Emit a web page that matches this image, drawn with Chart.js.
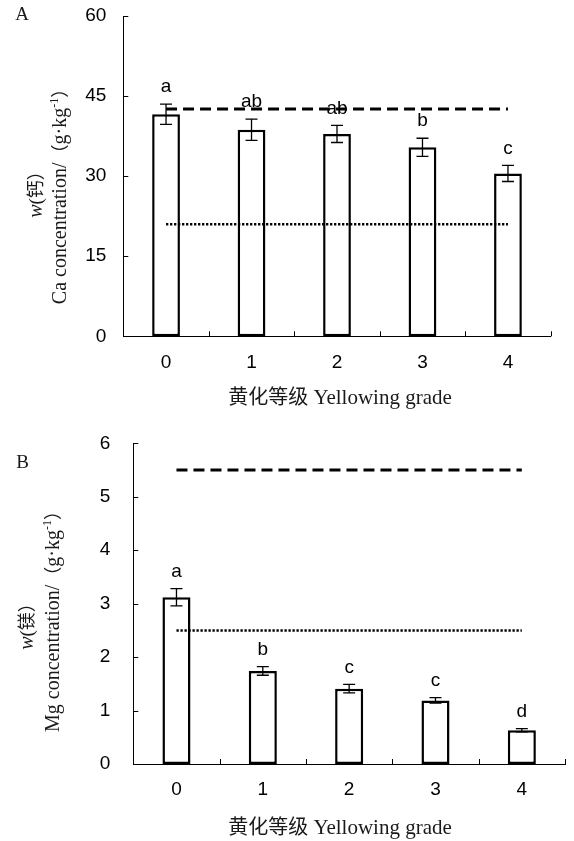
<!DOCTYPE html>
<html>
<head>
<meta charset="utf-8">
<script src="https://cdn.jsdelivr.net/npm/chart.js@4.4.1/dist/chart.umd.min.js"></script>
<style>
  html, body { margin: 0; padding: 0; background: #fff; }
  #page { position: relative; width: 574px; height: 841px; overflow: hidden; }
  canvas { position: absolute; left: 0; }
</style>
</head>
<body>
<div id="page">
  <canvas id="panelA" width="574" height="410" style="top:0"></canvas>
  <canvas id="panelB" width="574" height="431" style="top:410px"></canvas>
</div>
<script>
// Yellowing grades on the x axis
const grades = ['0', '1', '2', '3', '4'];

// Panel A: leaf calcium (g/kg)
const caMean = [41.6, 38.7, 37.9, 35.4, 30.5];
const caErr = [1.9, 2.0, 1.6, 1.7, 1.5];
const caLetters = ['a', 'ab', 'ab', 'b', 'c'];
const caUpperRef = 42.6;   // upper reference level
const caLowerRef = 21.0;   // lower reference level

// Panel B: leaf magnesium (g/kg)
const mgMean = [3.12, 1.74, 1.41, 1.19, 0.63];
const mgErr = [0.16, 0.08, 0.08, 0.05, 0.03];
const mgLetters = ['a', 'b', 'c', 'c', 'd'];
const mgUpperRef = 5.5;
const mgLowerRef = 2.5;

const SANS = '"Liberation Sans", Arial, sans-serif';
const SERIF = '"Liberation Serif", "Times New Roman", serif';
const CJK = '"Noto Sans CJK SC", sans-serif';

// Draw a run of mixed-font text centred on (cx, cy), optionally rotated
function drawRuns(ctx, cx, cy, runs, rotate) {
  ctx.save();
  ctx.translate(cx, cy);
  if (rotate) ctx.rotate(-Math.PI / 2);
  let total = 0;
  runs.forEach(r => { ctx.font = r.font; r.w = ctx.measureText(r.text).width; total += r.w; });
  let x = -total / 2;
  ctx.textAlign = 'left';
  ctx.textBaseline = 'alphabetic';
  runs.forEach(r => {
    ctx.font = r.font;
    ctx.fillStyle = r.color || '#1a1a1a';
    ctx.fillText(r.text, x, (r.dy || 0) + 7);
    x += r.w;
  });
  ctx.restore();
}

function buildPanel(canvasId, p) {
  const canvas = document.getElementById(canvasId);
  const W = canvas.width, H = canvas.height;
  const lines = (v) => grades.map(() => v);

  const decorations = {
    id: 'decorations',
    afterDatasetsDraw(chart) {
      const ctx = chart.ctx;
      const xs = chart.scales.x, ys = chart.scales.y;
      const area = chart.chartArea;
      ctx.save();
      // error bars
      ctx.strokeStyle = '#000';
      ctx.lineWidth = 1.3;
      p.mean.forEach((m, i) => {
        const x = xs.getPixelForValue(i);
        const yt = ys.getPixelForValue(m + p.err[i]);
        const yb = ys.getPixelForValue(m - p.err[i]);
        ctx.beginPath();
        ctx.moveTo(x, yt); ctx.lineTo(x, yb);
        ctx.moveTo(x - 6, yt); ctx.lineTo(x + 6, yt);
        ctx.moveTo(x - 6, yb); ctx.lineTo(x + 6, yb);
        ctx.stroke();
        // significance letters
        ctx.fillStyle = '#000';
        ctx.font = '19px ' + SANS;
        ctx.textAlign = 'center';
        ctx.textBaseline = 'middle';
        ctx.fillText(p.letters[i], x, yt - 17);
      });
      // inward tick marks
      ctx.lineWidth = 1;
      const half = (xs.getPixelForValue(1) - xs.getPixelForValue(0)) / 2;
      grades.forEach((g, i) => {
        const x = Math.round(xs.getPixelForValue(i) + half) + 0.5;
        ctx.beginPath();
        ctx.moveTo(x, area.bottom); ctx.lineTo(x, area.bottom - 5);
        ctx.stroke();
      });
      ys.ticks.forEach(t => {
        if (t.value <= 0) return;
        const y = Math.round(ys.getPixelForValue(t.value)) + 0.5;
        ctx.beginPath();
        ctx.moveTo(area.left, y); ctx.lineTo(area.left + 5, y);
        ctx.stroke();
      });
      ctx.restore();
    },
    afterDraw(chart) {
      const ctx = chart.ctx;
      // panel letter
      drawRuns(ctx, p.tag.x, p.tag.y, [{ text: p.tag.text, font: '19px ' + SERIF }], false);
      // y axis titles
      drawRuns(ctx, p.yTitle1.x, p.yTitle1.y, [
        { text: 'w', font: 'italic 20px ' + SERIF },
        { text: '(', font: '19px ' + SERIF },
        { text: p.element, font: '18px ' + CJK },
        { text: '）', font: '18px ' + CJK }
      ], true);
      drawRuns(ctx, p.yTitle2.x, p.yTitle2.y, [
        { text: p.symbol + ' concentration/', font: '20px ' + SERIF },
        { text: '（', font: '18px ' + CJK },
        { text: 'g·kg', font: '20px ' + SERIF },
        { text: '-1', font: '12px ' + SERIF, dy: -8 },
        { text: '）', font: '18px ' + CJK }
      ], true);
      // x axis title
      drawRuns(ctx, p.xTitle.x, p.xTitle.y, [
        { text: '黄化等级', font: '20px ' + CJK },
        { text: ' Yellowing grade', font: '21px ' + SERIF }
      ], false);
    }
  };

  return new Chart(canvas, {
    data: {
      labels: grades,
      datasets: [
        {
          type: 'bar', data: p.mean, order: 2,
          backgroundColor: '#fff', borderColor: '#000', borderWidth: 2.5,
          borderSkipped: false, categoryPercentage: 1, barPercentage: 0.325
        },
        {
          type: 'line', data: lines(p.upper), order: 1,
          borderColor: '#000', borderWidth: 3, borderDash: [11, 6],
          pointRadius: 0, fill: false
        },
        {
          type: 'line', data: lines(p.lower), order: 1,
          borderColor: '#000', borderWidth: 2.5, borderDash: [2.3, 1.7],
          pointRadius: 0, fill: false
        }
      ]
    },
    options: {
      responsive: false,
      animation: false,
      devicePixelRatio: 1,
      layout: { padding: { left: 0, top: p.area.top, right: W - p.area.right, bottom: 0 } },
      plugins: { legend: { display: false }, tooltip: { enabled: false } },
      scales: {
        x: {
          offset: true,
          grid: { display: false, drawTicks: false },
          border: { display: true, color: '#000', width: 1 },
          ticks: { color: '#000', font: { family: SANS, size: 19 }, padding: p.xPad, maxRotation: 0 },
          afterFit(s) {
            s.height = H - p.area.bottom;
            s.paddingLeft = 0; s.paddingRight = 0; s.paddingTop = 0; s.paddingBottom = 0;
          }
        },
        y: {
          min: 0, max: p.yMax,
          grid: { display: false, drawTicks: false },
          border: { display: true, color: '#000', width: 1 },
          ticks: { stepSize: p.yStep, color: '#000', font: { family: SANS, size: 19 }, padding: p.yPad },
          afterFit(s) {
            s.width = p.area.left;
            s.paddingLeft = 0; s.paddingRight = 0; s.paddingTop = 0; s.paddingBottom = 0;
          }
        }
      }
    },
    plugins: [decorations]
  });
}

buildPanel('panelA', {
  mean: caMean, err: caErr, letters: caLetters, upper: caUpperRef, lower: caLowerRef,
  yMax: 60, yStep: 15, yPad: 17, xPad: 15,
  area: { left: 123.3, top: 16, right: 550.7, bottom: 336.3 },
  element: '钙', symbol: 'Ca',
  tag: { text: 'A', x: 22, y: 13 },
  yTitle1: { x: 35, y: 190 }, yTitle2: { x: 59, y: 192 },
  xTitle: { x: 340, y: 397 }
});

buildPanel('panelB', {
  mean: mgMean, err: mgErr, letters: mgLetters, upper: mgUpperRef, lower: mgLowerRef,
  yMax: 6, yStep: 1, yPad: 23, xPad: 14,
  area: { left: 133.3, top: 33.3, right: 565, bottom: 354 },
  element: '镁', symbol: 'Mg',
  tag: { text: 'B', x: 22.5, y: 51 },
  yTitle1: { x: 26, y: 212 }, yTitle2: { x: 51.5, y: 207 },
  xTitle: { x: 340, y: 417 }
});
</script>
</body>
</html>
